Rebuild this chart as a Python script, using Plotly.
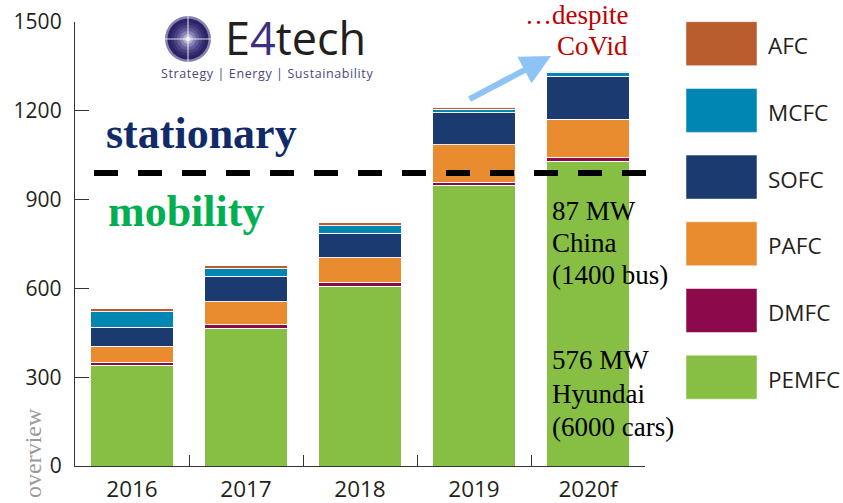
import plotly.graph_objects as go

# Installed fuel-cell capacity by technology (MW)
years = ["2016", "2017", "2018", "2019", "2020f"]
pemfc = [340, 466, 608, 948, 1029]
dmfc = [11, 11, 11, 11, 12]
pafc = [54, 78, 84, 127, 131]
sofc = [63, 86, 83, 107, 145]
mcfc = [53, 26, 25, 12, 11]
afc = [11, 9, 11, 7, 6]

series = [
    ("PEMFC", pemfc, "#86BF43"),
    ("DMFC", dmfc, "#8C0A4C"),
    ("PAFC", pafc, "#E98B2F"),
    ("SOFC", sofc, "#1B3A70"),
    ("MCFC", mcfc, "#0086B3"),
    ("AFC", afc, "#B95C2E"),
]

y_ticks = [0, 300, 600, 900, 1200, 1500]
divider_value = 990

W, H = 843, 503
L, R, T, B = 75, 645, 22, 466


def px(x):
    return (x - L) / (R - L)


def py(y):
    return (B - y) / (B - T)


SANS = "Open Sans"
SERIF = "Liberation Serif"

fig = go.Figure()
for name, vals, col in series:
    fig.add_trace(go.Bar(
        x=years, y=vals, name=name, width=0.72,
        marker=dict(color=col, line=dict(color="rgba(255,255,255,0.9)", width=1)),
        showlegend=False,
    ))

shapes = []
annotations = []

# stationary / mobility divider
shapes.append(dict(type="line", xref="paper", yref="y",
                   x0=px(94), x1=px(649), y0=divider_value, y1=divider_value,
                   line=dict(color="black", width=6, dash="24px,20px")))

# legend swatches and labels (top to bottom)
legend_rows = [s for s in reversed(series)]
for i, (name, vals, col) in enumerate(legend_rows):
    top = 21.7 + i * 66.7
    shapes.append(dict(type="rect", xref="paper", yref="paper",
                       x0=px(686), x1=px(757), y0=py(top + 44), y1=py(top),
                       fillcolor=col, line=dict(color="rgba(255,255,255,0.5)", width=1)))
    annotations.append(dict(text=name, xref="paper", yref="paper",
                            x=px(766), y=py(top + 24), xanchor="left", yanchor="middle",
                            showarrow=False, font=dict(family=SANS, size=22.5, color="#231F20")))

# logo globe
globe = [(23, "#8580B5"), (20.5, "#2B2363"), (17, "#362F71"), (14, "#4A4484"),
         (11, "#635E99"), (8, "#8783B4"), (5, "#B3B0D2"), (2.5, "#E4E3EF")]
for r, col in globe:
    shapes.append(dict(type="circle", xref="paper", yref="paper",
                       xsizemode="pixel", ysizemode="pixel",
                       xanchor=px(188), yanchor=py(39),
                       x0=-r, x1=r, y0=-r, y1=r,
                       fillcolor=col, line=dict(width=0)))
for dx0, dy0, dx1, dy1 in [(-0.8, -23, 0.8, 23), (-23, -0.8, 23, 0.8)]:
    shapes.append(dict(type="rect", xref="paper", yref="paper",
                       xsizemode="pixel", ysizemode="pixel",
                       xanchor=px(188), yanchor=py(39),
                       x0=dx0, x1=dx1, y0=dy0, y1=dy1,
                       fillcolor="rgba(255,255,255,0.55)", line=dict(width=0)))

annotations += [
    dict(text="E<span style='color:#3D2F7F'>4</span>tech", xref="paper", yref="paper",
         x=px(223), y=py(38), xanchor="left", yanchor="middle", showarrow=False,
         font=dict(family=SANS, size=45, color="#231F20")),
    dict(text="<span style='letter-spacing:0.6px'>Strategy | Energy | Sustainability</span>",
         xref="paper", yref="paper",
         x=px(267), y=py(73), xanchor="center", yanchor="middle", showarrow=False,
         font=dict(family=SANS, size=12.5, color="#4B467F")),
    dict(text="<b>stationary</b>", xref="paper", yref="paper",
         x=px(104), y=py(133), xanchor="left", yanchor="middle", showarrow=False,
         font=dict(family=SERIF, size=44, color="#102A6A")),
    dict(text="<b>mobility</b>", xref="paper", yref="paper",
         x=px(106), y=py(212), xanchor="left", yanchor="middle", showarrow=False,
         font=dict(family=SERIF, size=44, color="#00B050")),
    dict(text="…despite", xref="paper", yref="paper",
         x=px(630), y=py(15), xanchor="right", yanchor="middle", showarrow=False,
         font=dict(family=SERIF, size=27, color="#C00000")),
    dict(text="CoVid", xref="paper", yref="paper",
         x=px(630), y=py(46), xanchor="right", yanchor="middle", showarrow=False,
         font=dict(family=SERIF, size=27, color="#C00000")),
    dict(text="overview", xref="paper", yref="paper", textangle=-90,
         x=px(33), y=py(453), xanchor="center", yanchor="middle", showarrow=False,
         font=dict(family=SERIF, size=24, color="#9A9A9A")),
    dict(text="", xref="paper", yref="paper", x=px(551), y=py(56),
         ax=-83, ay=44, showarrow=True, arrowhead=2, arrowsize=1,
         arrowwidth=6, arrowcolor="#8DC3F5", standoff=0, startstandoff=0),
]

note_lines = [("87 MW", 211), ("China", 243), ("(1400 bus)", 275),
              ("576 MW", 360), ("Hyundai", 394), ("(6000 cars)", 427)]
for txt, yc in note_lines:
    annotations.append(dict(text=txt, xref="paper", yref="paper",
                            x=px(550), y=py(yc), xanchor="left", yanchor="middle",
                            showarrow=False,
                            font=dict(family=SERIF, size=27, color="black")))

fig.update_layout(
    width=W, height=H,
    barmode="stack",
    margin=dict(l=L, r=W - R, t=T, b=H - B, autoexpand=False),
    paper_bgcolor="white", plot_bgcolor="white",
    showlegend=False,
    shapes=shapes,
    annotations=annotations,
    xaxis=dict(type="category", range=[-0.5, 4.5], tickson="boundaries",
               ticks="inside", ticklen=11, tickwidth=1.3, tickcolor="#333",
               showline=True, linecolor="#333", linewidth=1.3,
               showgrid=False, zeroline=False, automargin=False,
               tickfont=dict(family=SANS, size=22.5, color="#231F20"),
               ticklabelstandoff=3),
    yaxis=dict(range=[0, 1500], tickvals=y_ticks,
               ticks="inside", ticklen=14, tickwidth=1.3, tickcolor="#333",
               showline=True, linecolor="#333", linewidth=1.3,
               showgrid=False, zeroline=False, automargin=False,
               tickfont=dict(family=SANS, size=21, color="#231F20"),
               ticklabelstandoff=8),
)

fig.write_html("out.html")
